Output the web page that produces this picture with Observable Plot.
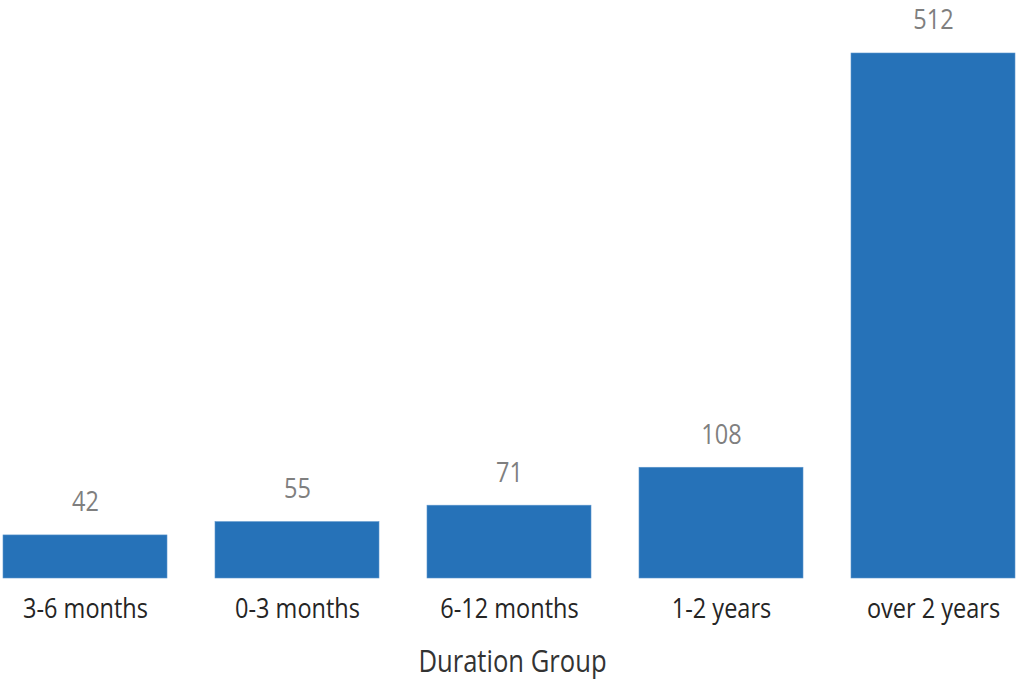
<!DOCTYPE html>
<html>
<head>
<meta charset="utf-8">
<script src="https://cdn.jsdelivr.net/npm/d3@7"></script>
<script src="https://cdn.jsdelivr.net/npm/@observablehq/plot@0.6"></script>
<style>
  html, body { margin: 0; padding: 0; background: #fff; }
  #chart svg { display: block; }
</style>
</head>
<body>
<div id="chart"></div>
<script>
// Number of records per duration group
const groups = ["3-6 months", "0-3 months", "6-12 months", "1-2 years", "over 2 years"];
const counts = [42, 55, 71, 108, 512];

const data = groups.map((g, i) => ({group: g, count: counts[i]}));

const font = "'Open Sans', 'Segoe UI', sans-serif";

const chart = Plot.plot({
  width: 1016,
  height: 679,
  marginLeft: 2,
  marginRight: 0,
  marginTop: 53,
  marginBottom: 101,
  style: {fontFamily: font, background: "#fff"},
  x: {domain: groups, paddingInner: 0.228, paddingOuter: 0, axis: null},
  y: {domain: [0, 512], axis: null},
  marks: [
    Plot.barY(data, {x: "group", y: "count", fill: "#2672b8", stroke: "#5b95cc", strokeWidth: 0.6}),
    // value labels above each bar
    Plot.text(data, {x: "group", y: "count", text: d => String(d.count), dy: -33,
      fontSize: 28, fill: "#7f7f7f"}),
    // category labels under each bar
    Plot.text(data, {x: "group", y: 0, text: "group", dy: 31,
      fontSize: 28, fill: "#252525"}),
    // axis title
    Plot.text(["Duration Group"], {frameAnchor: "bottom", dx: 3, dy: 93,
      fontSize: 30.5, fill: "#333333"})
  ]
});

// narrow the glyphs horizontally to get the condensed lettering
chart.querySelectorAll("text").forEach(t => {
  const tr = t.getAttribute("transform");
  if (tr) t.setAttribute("transform", tr + " scale(0.84,1)");
});

document.getElementById("chart").appendChild(chart);
</script>
</body>
</html>
